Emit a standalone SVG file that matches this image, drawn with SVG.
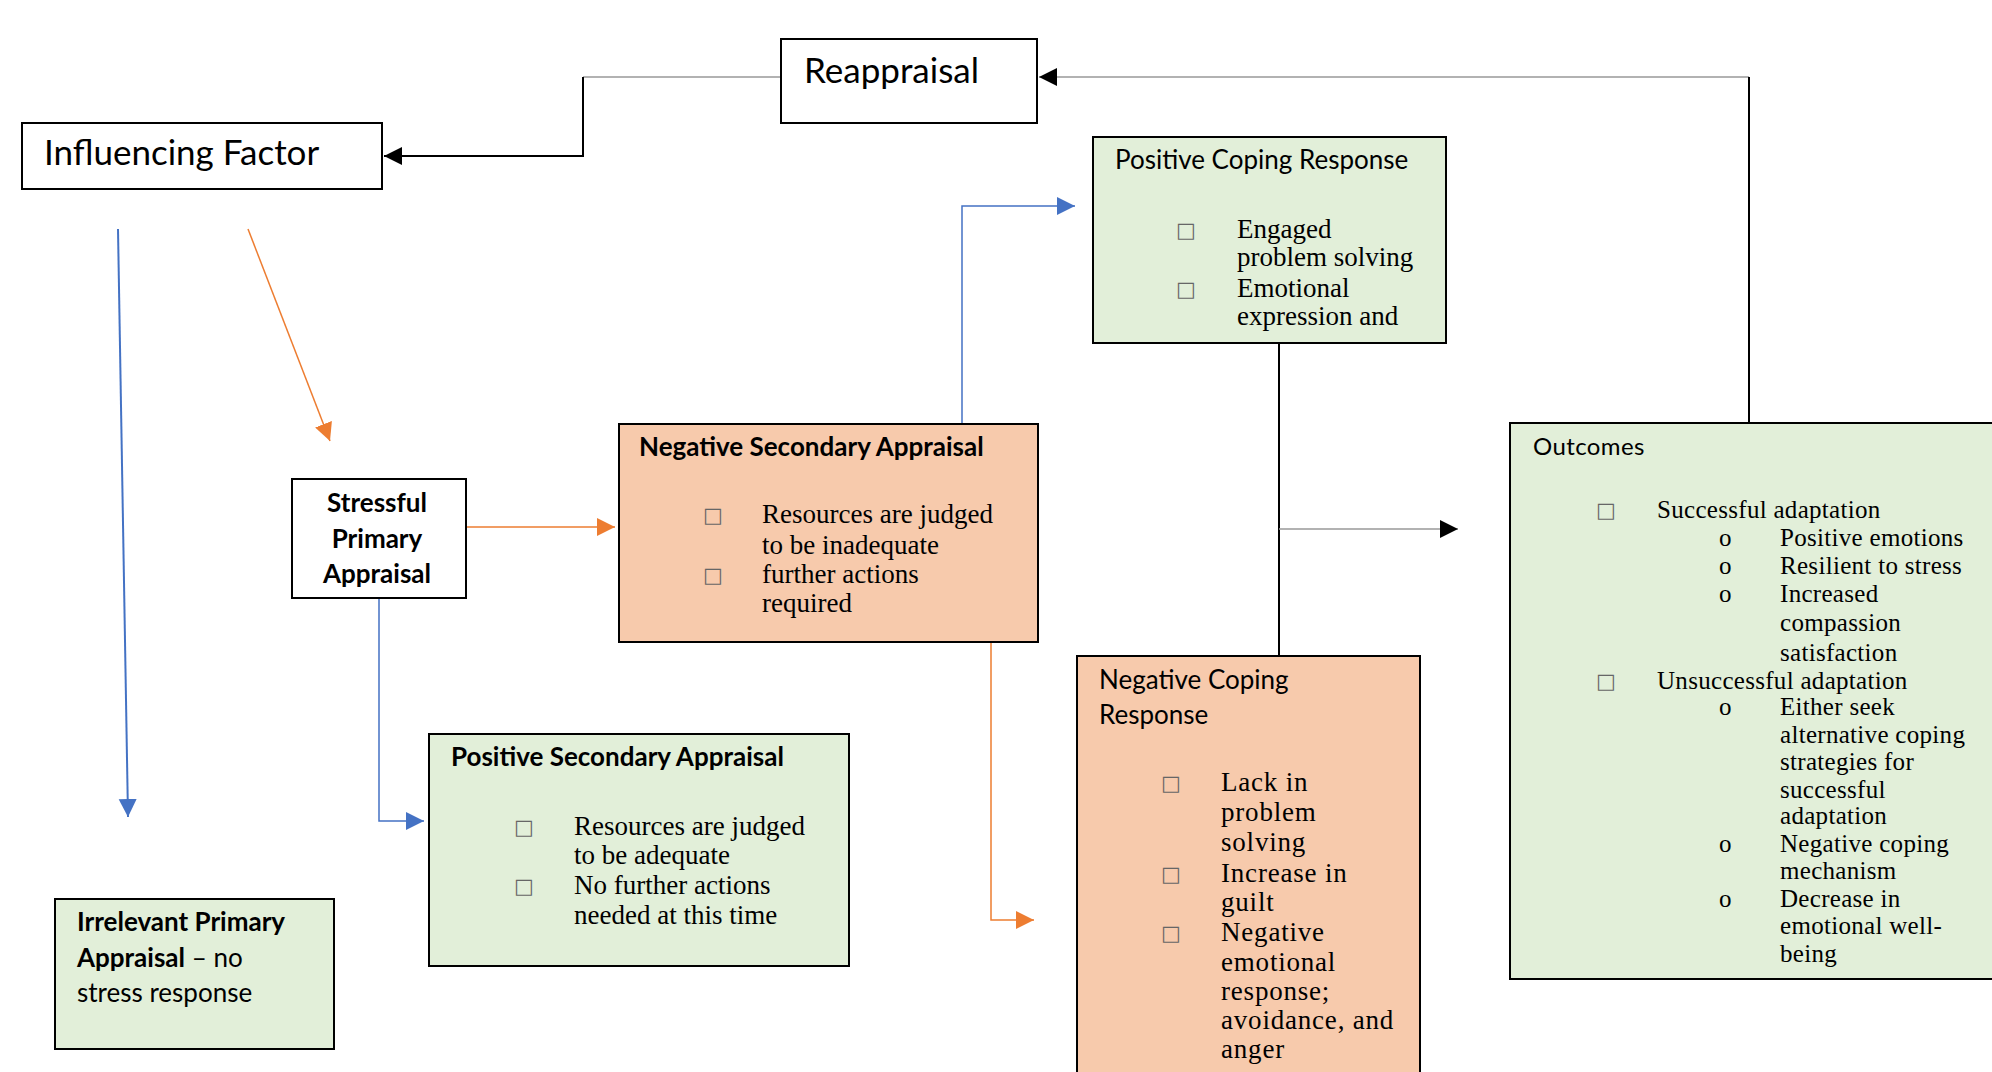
<svg xmlns="http://www.w3.org/2000/svg" width="1992" height="1072" viewBox="0 0 1992 1072">
<defs>
<style>
.box{stroke:#000;stroke-width:2}
.w{fill:#fff}.g{fill:#E2EFD9}.o{fill:#F7CAAC}
.sans{font-family:Lato,"Liberation Sans",sans-serif;fill:#000}
.big{font-size:35px}
.t{font-size:26px}
.b{font-weight:bold}
.ser{font-family:"Liberation Serif",serif;font-size:27px;fill:#000}
.ser2{font-family:"Liberation Serif",serif;font-size:25px;letter-spacing:0.3px;fill:#000}
.bul{font-family:"DejaVu Sans",sans-serif;font-size:21px;fill:#666}
.k{fill:none;stroke:#000;stroke-width:2}
.gr{fill:none;stroke:#999;stroke-width:1.5}
.bl{fill:none;stroke:#4472C4;stroke-width:1.5}
.or{fill:none;stroke:#ED7D31;stroke-width:1.5}
</style>
<marker id="ak" markerUnits="userSpaceOnUse" markerWidth="20" markerHeight="20" refX="18" refY="9" orient="auto"><path d="M0,0 L18,9 L0,18 z" fill="#000"/></marker>
<marker id="ab" markerUnits="userSpaceOnUse" markerWidth="20" markerHeight="20" refX="18" refY="9" orient="auto"><path d="M0,0 L18,9 L0,18 z" fill="#4472C4"/></marker>
<marker id="ao" markerUnits="userSpaceOnUse" markerWidth="20" markerHeight="20" refX="18" refY="9" orient="auto"><path d="M0,0 L18,9 L0,18 z" fill="#ED7D31"/></marker>
</defs>
<rect width="1992" height="1072" fill="#fff"/>

<g id="connectors">
<path class="gr" d="M781,77 H583"/>
<path class="k" d="M583,77 V156 H384" marker-end="url(#ak)"/>
<path class="gr" d="M1749,77 H1039" marker-end="url(#ak)"/>
<path class="k" d="M1749,77 V423 H1766"/>
<path class="k" d="M1279,343 V527 V656"/>
<path class="gr" d="M1279,529 H1458" marker-end="url(#ak)"/>
<path class="bl" d="M118,229 L128,817" style="stroke-width:2" marker-end="url(#ab)"/>
<path class="or" d="M248,229 L330,441" marker-end="url(#ao)"/>
<path class="or" d="M466,527 H615" marker-end="url(#ao)"/>
<path class="bl" d="M333,598 H379 V821 H424" marker-end="url(#ab)"/>
<path class="bl" d="M849,424 H962 V206 H1075" marker-end="url(#ab)"/>
<path class="or" d="M946,642 H991 V920 H1034" marker-end="url(#ao)"/>
</g>

<g id="reappraisal">
<rect class="box w" x="781" y="39" width="256" height="84"/>
<text class="sans big" x="804" y="83">Reappraisal</text>
</g>

<g id="influencing-factor">
<rect class="box w" x="22" y="123" width="360" height="66"/>
<text class="sans big" x="44" y="165">Influencing Factor</text>
</g>

<g id="positive-coping">
<rect class="box g" x="1093" y="137" width="353" height="206"/>
<text class="sans t" x="1115" y="169">Positive Coping Response</text>
<text class="bul" x="1176" y="237">□</text>
<text class="bul" x="1176" y="296">□</text>
<text class="ser" x="1237" y="238">Engaged</text>
<text class="ser" x="1237" y="266">problem solving</text>
<text class="ser" x="1237" y="297">Emotional</text>
<text class="ser" x="1237" y="325">expression and</text>
</g>

<g id="negative-secondary">
<rect class="box o" x="619" y="424" width="419" height="218"/>
<text class="sans t b" x="639" y="456">Negative Secondary Appraisal</text>
<text class="bul" x="703" y="522">□</text>
<text class="bul" x="703" y="582">□</text>
<text class="ser" x="762" y="523">Resources are judged</text>
<text class="ser" x="762" y="554">to be inadequate</text>
<text class="ser" x="762" y="583">further actions</text>
<text class="ser" x="762" y="612">required</text>
</g>

<g id="stressful-primary">
<rect class="box w" x="292" y="479" width="174" height="119"/>
<text class="sans t b" x="377" y="512" text-anchor="middle">Stressful</text>
<text class="sans t b" x="377" y="548" text-anchor="middle">Primary</text>
<text class="sans t b" x="377" y="583" text-anchor="middle">Appraisal</text>
</g>

<g id="positive-secondary">
<rect class="box g" x="429" y="734" width="420" height="232"/>
<text class="sans t b" x="451" y="766">Positive Secondary Appraisal</text>
<text class="bul" x="514" y="834">□</text>
<text class="bul" x="514" y="893">□</text>
<text class="ser" x="574" y="835">Resources are judged</text>
<text class="ser" x="574" y="864">to be adequate</text>
<text class="ser" x="574" y="894">No further actions</text>
<text class="ser" x="574" y="924">needed at this time</text>
</g>

<g id="irrelevant-primary">
<rect class="box g" x="55" y="899" width="279" height="150"/>
<text class="sans t b" x="77" y="931">Irrelevant Primary</text>
<text class="sans t" x="77" y="967"><tspan font-weight="bold">Appraisal</tspan> – no</text>
<text class="sans t" x="77" y="1002">stress response</text>
</g>

<g id="negative-coping">
<rect class="box o" x="1077" y="656" width="343" height="430"/>
<text class="sans t" x="1099" y="689">Negative Coping</text>
<text class="sans t" x="1099" y="724">Response</text>
<text class="bul" x="1161" y="790">□</text>
<text class="bul" x="1161" y="881">□</text>
<text class="bul" x="1161" y="940">□</text>
<text class="ser" x="1221" y="791" letter-spacing="0.8">Lack in</text>
<text class="ser" x="1221" y="821" letter-spacing="0.8">problem</text>
<text class="ser" x="1221" y="851" letter-spacing="0.8">solving</text>
<text class="ser" x="1221" y="882" letter-spacing="0.8">Increase in</text>
<text class="ser" x="1221" y="911" letter-spacing="0.8">guilt</text>
<text class="ser" x="1221" y="941" letter-spacing="0.8">Negative</text>
<text class="ser" x="1221" y="971" letter-spacing="0.8">emotional</text>
<text class="ser" x="1221" y="1000" letter-spacing="0.8">response;</text>
<text class="ser" x="1221" y="1029" letter-spacing="0.8">avoidance, and</text>
<text class="ser" x="1221" y="1058" letter-spacing="0.8">anger</text>
</g>

<g id="outcomes">
<rect class="box g" x="1510" y="423" width="500" height="556"/>
<text class="sans" x="1533" y="455" font-size="24" letter-spacing="0.4">Outcomes</text>
<text class="bul" x="1596" y="517">□</text>
<text class="bul" x="1596" y="688">□</text>
<text class="ser2" x="1657" y="518">Successful adaptation</text>
<text class="ser2" x="1719" y="546">o</text>
<text class="ser2" x="1719" y="574">o</text>
<text class="ser2" x="1719" y="602">o</text>
<text class="ser2" x="1780" y="546">Positive emotions</text>
<text class="ser2" x="1780" y="574">Resilient to stress</text>
<text class="ser2" x="1780" y="602">Increased</text>
<text class="ser2" x="1780" y="631">compassion</text>
<text class="ser2" x="1780" y="661">satisfaction</text>
<text class="ser2" x="1657" y="689">Unsuccessful adaptation</text>
<text class="ser2" x="1719" y="715">o</text>
<text class="ser2" x="1780" y="715">Either seek</text>
<text class="ser2" x="1780" y="743">alternative coping</text>
<text class="ser2" x="1780" y="770">strategies for</text>
<text class="ser2" x="1780" y="798">successful</text>
<text class="ser2" x="1780" y="824">adaptation</text>
<text class="ser2" x="1719" y="852">o</text>
<text class="ser2" x="1780" y="852">Negative coping</text>
<text class="ser2" x="1780" y="879">mechanism</text>
<text class="ser2" x="1719" y="907">o</text>
<text class="ser2" x="1780" y="907">Decrease in</text>
<text class="ser2" x="1780" y="934">emotional well-</text>
<text class="ser2" x="1780" y="962">being</text>
</g>
</svg>
